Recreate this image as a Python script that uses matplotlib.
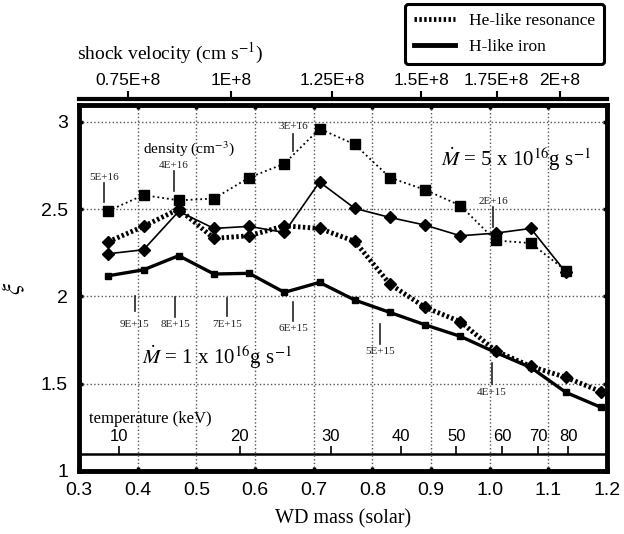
import matplotlib.pyplot as plt
from matplotlib.lines import Line2D

plt.rcParams['font.family'] = 'Liberation Serif'
plt.rcParams['mathtext.fontset'] = 'stix'

# WD mass of each model point
mass = [0.35, 0.41, 0.47, 0.53, 0.59, 0.65, 0.71, 0.77, 0.83, 0.89, 0.95, 1.01, 1.07, 1.13, 1.19]

# Mdot = 5e16 g/s (14 points)
he_hi = [2.49, 2.58, 2.55, 2.56, 2.68, 2.76, 2.96, 2.87, 2.68, 2.61, 2.52, 2.32, 2.305, 2.147]
h_hi = [2.244, 2.267, 2.487, 2.389, 2.401, 2.366, 2.655, 2.504, 2.452, 2.408, 2.347, 2.362, 2.389, 2.137]
# Mdot = 1e16 g/s (15 points)
he_lo = [2.313, 2.401, 2.50, 2.332, 2.347, 2.404, 2.389, 2.315, 2.070, 1.937, 1.855, 1.688, 1.599, 1.536, 1.454]
h_lo = [2.118, 2.152, 2.233, 2.128, 2.132, 2.023, 2.080, 1.979, 1.908, 1.837, 1.771, 1.679, 1.593, 1.450, 1.364]

# secondary axes (positions given in WD mass)
vel_pos = [0.3835, 0.559, 0.731, 0.883, 1.012, 1.120]
vel_labels = ["0.75E+8", "1E+8", "1.25E+8", "1.5E+8", "1.75E+8", "2E+8"]
temp_pos = [0.3675, 0.574, 0.729, 0.848, 0.943, 1.0216, 1.083, 1.134]
temp_labels = ["10", "20", "30", "40", "50", "60", "70", "80"]

# density markers: label, x, text y, line top, line bottom
dens_labels = ["5E+16", "4E+16", "3E+16", "2E+16", "9E+15", "8E+15", "7E+15", "6E+15", "5E+15", "4E+15"]
dens_x = [0.3426, 0.462, 0.665, 1.006, 0.395, 0.4636, 0.552, 0.665, 0.813, 1.004]
dens_ty = [2.678, 2.752, 2.970, 2.546, 1.841, 1.841, 1.841, 1.818, 1.687, 1.452]
dens_l1 = [2.649, 2.718, 2.930, 2.511, 2.002, 1.996, 1.990, 1.967, 1.841, 1.618]
dens_l2 = [2.540, 2.603, 2.832, 2.397, 1.916, 1.881, 1.887, 1.859, 1.727, 1.498]

fig = plt.figure(figsize=(6.24, 5.34), dpi=100)
ax = fig.add_axes([0.1266, 0.1180, 0.8462, 0.6854])

n = len(he_hi)
ax.plot(mass[:n], he_hi, color="black", lw=1.3, ls=":", marker="s", ms=7.5)
ax.plot(mass[:n], h_hi, color="black", lw=1.2, ls="-", marker="D", ms=6.5)
ax.plot(mass, he_lo, color="black", lw=3.5, ls=(0, (0.5, 0.5)), marker="D", ms=6.5)
ax.plot(mass, h_lo, color="black", lw=2.4, ls="-", marker="s", ms=5)

for lab, x, ty, l1, l2 in zip(dens_labels, dens_x, dens_ty, dens_l1, dens_l2):
    ax.plot([x, x], [l1, l2], color="#222222", lw=1.2)
    ax.text(x, ty, lab, fontsize=8, color="#222222", ha="center", va="center")

ax.text(0.409, 2.844, "density (cm$^{-3}$)", fontsize=11, va="center")
ax.text(0.317, 1.295, "temperature (keV)", fontsize=12, va="center")
ax.text(0.917, 2.786, r"$\dot{M}$ = 5 x 10$^{16}$g s$^{-1}$", fontsize=15, va="center")
ax.text(0.407, 1.652, r"$\dot{M}$ = 1 x 10$^{16}$g s$^{-1}$", fontsize=15, va="center")

ax.set_xlim(0.3, 1.2)
ax.set_ylim(1.0, 3.096)
xt = [0.3, 0.4, 0.5, 0.6, 0.7, 0.8, 0.9, 1.0, 1.1, 1.2]
ax.set_xticks(xt, labels=["%.1f" % v for v in xt], family="Liberation Sans", fontsize=14)
ax.set_yticks([1, 1.5, 2, 2.5, 3], labels=["1", "1.5", "2", "2.5", "3"], family="Liberation Sans", fontsize=14)
ax.tick_params(direction="in", length=3, width=2.5, top=True, right=True, pad=8)
ax.grid(True, ls=":", color="#555555", lw=1)
for s in ax.spines.values():
    s.set_linewidth(3.5)
ax.set_xlabel("WD mass (solar)", fontsize=14.5, labelpad=7)
ax.set_ylabel(r"$\xi$", fontsize=18, labelpad=10)

# shock velocity axis on top
top = ax.secondary_xaxis(1.016)
top.set_xticks(vel_pos, labels=vel_labels)
top.tick_params(length=6, width=1.5, labelsize=12.5, pad=2)
for lab in top.get_xticklabels():
    lab.set_family("Liberation Sans")
top.spines["top"].set_linewidth(3)
fig.text(77 / 624, 1 - 53 / 534, "shock velocity (cm s$^{-1}$)", fontsize=14, va="center")

# temperature axis near the bottom
tax = ax.secondary_xaxis(0.046)
tax.set_alignment("top")
tax.set_xticks(temp_pos, labels=temp_labels)
tax.tick_params(length=6, width=1.2, labelsize=12, pad=1)
for lab in tax.get_xticklabels():
    lab.set_family("Liberation Sans")
tax.spines["top"].set_linewidth(1.8)

handles = [Line2D([0], [0], color="black", lw=3.5, ls=(0, (0.5, 0.5))),
           Line2D([0], [0], color="black", lw=3.5, ls="-")]
leg = fig.legend(handles, ["He-like resonance", "H-like iron"], loc="upper right",
                 bbox_to_anchor=(604 / 624, 1 - 4 / 534), borderaxespad=0, fontsize=12.5,
                 frameon=True, fancybox=True, handlelength=2.4, borderpad=0.5, labelspacing=0.6)
leg.get_frame().set_edgecolor("black")
leg.get_frame().set_linewidth(2.2)
leg.get_frame().set_alpha(1)

fig.savefig("out.png", dpi=100)
